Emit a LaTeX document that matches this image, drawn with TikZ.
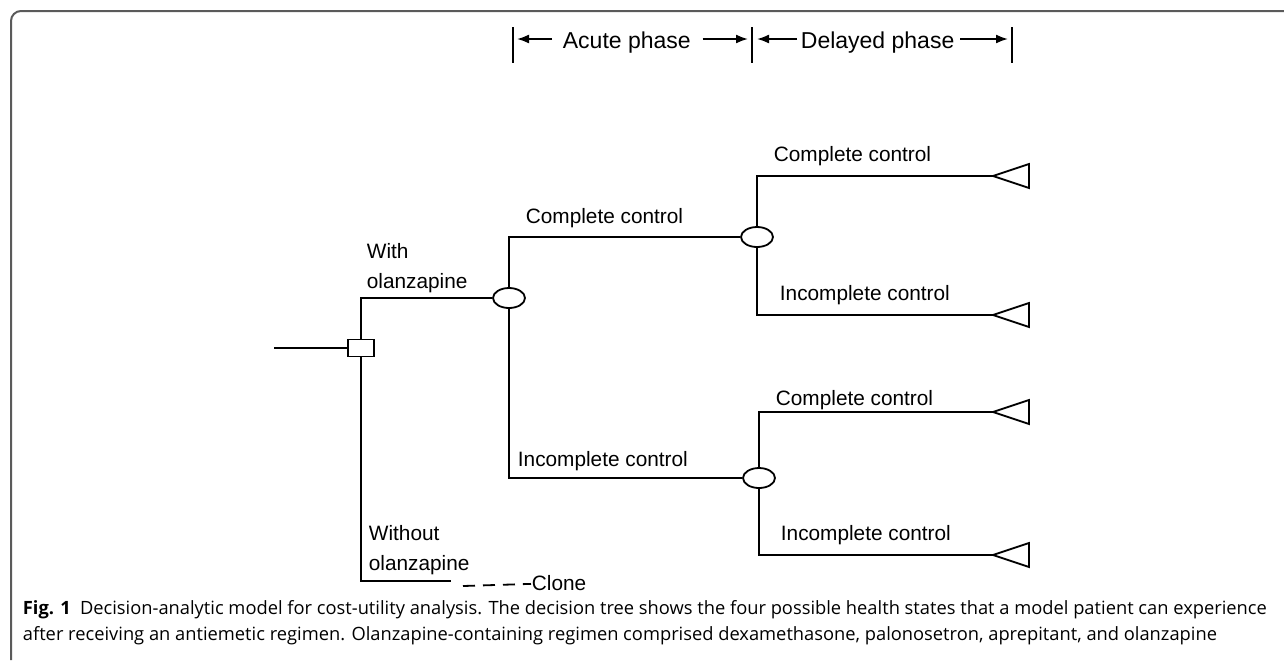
\documentclass[tikz,border=0pt]{standalone}
\usepackage{fontspec}
\setmainfont{Liberation Sans}
\newfontfamily\capfont{Open Sans}
\usetikzlibrary{shapes.geometric,arrows.meta}
\definecolor{framegray}{HTML}{5A5A5A}

\begin{document}
\begin{tikzpicture}[x=0.5pt,y=-0.5pt,line width=0.9pt,
		decision/.style={rectangle,draw,minimum width=13pt,minimum height=8.5pt,inner sep=0pt},
		chance/.style={ellipse,draw,minimum width=16pt,minimum height=10pt,inner sep=0pt},
		phasearrow/.style={-{Latex[length=6pt,width=4.5pt]}},
		clonelink/.style={dash pattern=on 6pt off 4pt}]
			\useasboundingbox (0,0) rectangle (1284,660);
			\draw[framegray,line width=1pt,rounded corners=5pt] (1284,11) -- (11,11) -- (11,660);
			
			% phases
			\begin{scope}[every node/.style={font=\fontsize{11.5}{14}\selectfont,inner sep=0pt}]
				\node[anchor=base west] (acute) at (562,48) {Acute phase};
				\node[anchor=base west] (delayed) at (800,48) {Delayed phase};
			\end{scope}
			\foreach \x/\n in {513/1,752/2,1012/3} {
				\coordinate (p\n) at (\x,39);
				\draw (\x,27) -- (\x,63);
			}
			\draw[phasearrow,shorten <=5pt,shorten >=2pt] (acute.west |- p1) -- (p1);
			\draw[phasearrow,shorten <=5.5pt,shorten >=2pt] (acute.east |- p2) -- (p2);
			\draw[phasearrow,shorten <=1.5pt,shorten >=2.5pt] (delayed.west |- p2) -- (p2);
			\draw[phasearrow,shorten <=2.5pt,shorten >=2pt] (delayed.east |- p3) -- (p3);
			
			% tree
			\node[decision] (dec) at (361,348) {};
			\node[chance] (c1) at (509,298) {};
			\node[chance] (c2) at (757,237) {};
			\node[chance] (c3) at (759,478) {};
			\coordinate (start) at (274,348);
			\coordinate (wo) at (451,581);
			\coordinate (cl) at (463,586);
			\coordinate (t1) at (993,176);
			\coordinate (t2) at (993,315);
			\coordinate (t3) at (993,412);
			\coordinate (t4) at (993,555);
			
			\begin{scope}[every node/.style={font=\fontsize{10.4}{15}\selectfont,inner sep=0pt,align=left}]
				\node[anchor=north west] (with) at (366,243) {With\\olanzapine};
				\node[anchor=north west] (without) at (368,525) {Without\\olanzapine};
				\node[anchor=west] (clone) at (531,583) {Clone};
				\node[anchor=base west] (cc1) at (525,223) {Complete control};
				\node[anchor=base west] (ic1) at (517,466) {Incomplete control};
				\node[anchor=base west] (cc2) at (773,161) {Complete control};
				\node[anchor=base west] (ic2) at (779,300) {Incomplete control};
				\node[anchor=base west] (cc3) at (775,405) {Complete control};
				\node[anchor=base west] (ic3) at (780,540) {Incomplete control};
			\end{scope}
			
			\begin{scope}
				\draw (start) -- (dec);
				\draw (dec) |- (c1);
				\draw (dec) |- (wo);
				\draw[clonelink] (cl) -- (clone);
				\draw (c1) |- (c2);
				\draw (c1) |- (c3);
				\draw (c2) |- (t1);
				\draw (c2) |- (t2);
				\draw (c3) |- (t3);
				\draw (c3) |- (t4);
			\end{scope}
			\foreach \t in {t1,t2,t3,t4}
				\draw (\t) -- ++(36,-12) -- ++(0,24) -- cycle;
			
			\node[anchor=north west,align=left,inner sep=0pt,
				font=\capfont\fontsize{9.15}{13}\selectfont] (caption) at (22,600)
				{\textbf{Fig. 1}\enspace Decision-analytic model for cost-utility analysis. The decision tree shows the four possible health states that a model patient can experience\\
				after receiving an antiemetic regimen. Olanzapine-containing regimen comprised dexamethasone, palonosetron, aprepitant, and olanzapine};
		\end{tikzpicture}
\end{document}
